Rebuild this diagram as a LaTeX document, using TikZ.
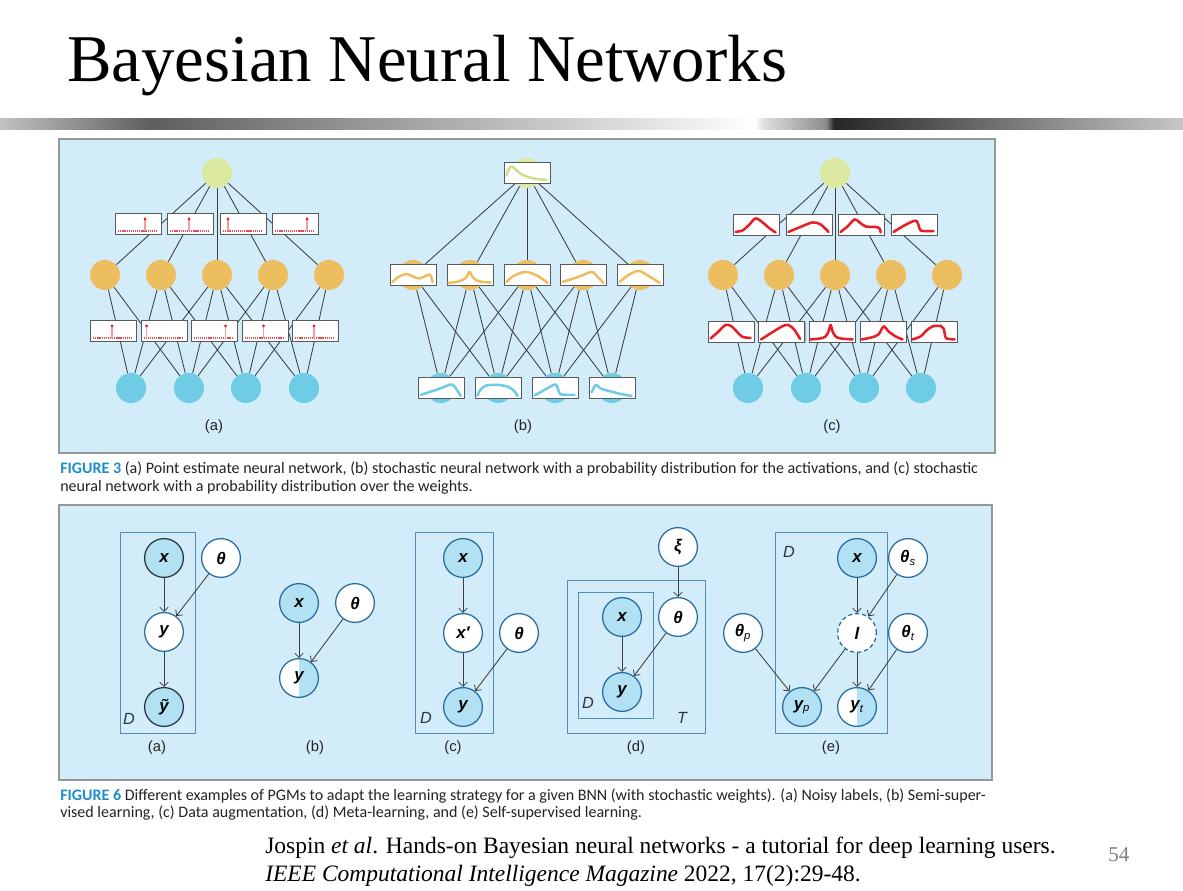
\documentclass[tikz,border=0pt]{standalone}
\usepackage{fontspec}
\setmainfont{Liberation Serif}
\setsansfont{Liberation Sans}
\newfontfamily\capfont{Carlito}
\usetikzlibrary{arrows.meta,positioning,backgrounds,shadows}

\definecolor{fondo}{RGB}{210,237,249}
\definecolor{borde}{RGB}{150,150,150}
\definecolor{verde}{RGB}{218,232,160}
\definecolor{verdecurva}{RGB}{206,222,138}
\definecolor{naranja}{RGB}{236,190,96}
\definecolor{azul}{RGB}{110,205,228}
\definecolor{gris}{RGB}{60,60,60}
\definecolor{rojo}{RGB}{232,30,38}
\definecolor{varfill}{RGB}{178,225,244}
\definecolor{varborde}{RGB}{40,110,160}
\definecolor{placacol}{RGB}{80,140,180}
\definecolor{oscuro}{RGB}{45,55,65}
\definecolor{figazul}{RGB}{30,140,205}
\definecolor{texto}{RGB}{35,35,35}

% curva dentro de una caja (coordenadas locales 46 x 21)
\newcommand{\curva}[3]{\draw[#2, line width=1.8pt, line cap=round, line join=round, shift={(#1.south west)}, x=0.025cm, y=0.025cm] plot[smooth] coordinates {#3};}
% pico puntual dentro de una caja
\newcommand{\pico}[2]{%
  \begin{scope}[shift={(#1.south west)}, x=0.025cm, y=0.025cm]
    \draw[rojo!80, line width=1.1pt, dash pattern=on 0.9pt off 0.6pt] (3,4) -- (43,4);
    \draw[rojo!45, line width=1pt] (#2,4) -- (#2,16);
    \fill[rojo] (#2,16) circle (1.1pt);
  \end{scope}}

\begin{document}
\begin{tikzpicture}[
    x=0.025cm, y=-0.025cm,
    neurona/.style={circle, minimum size=0.75cm, inner sep=0pt},
    caja/.style={draw=gray!70!black, fill=white, line width=0.6pt, minimum width=1.15cm, minimum height=0.525cm, inner sep=0pt,
      drop shadow={shadow xshift=0.7pt, shadow yshift=-0.7pt, fill=black, opacity=0.25}},
    linea/.style={draw=gris, line width=0.6pt},
    var/.style={circle, draw=varborde, fill=white, line width=0.9pt, minimum size=0.97cm, inner sep=0pt,
      font=\sffamily\bfseries\itshape\fontsize{12}{14}\selectfont, text=black},
    obs/.style={var, fill=varfill},
    semi/.style={var, path picture={\fill[varfill] (path picture bounding box.north) rectangle (path picture bounding box.south east);}},
    flecha/.style={-{Straight Barb[length=3pt,width=6pt]}, draw=gris, line width=0.6pt},
    placa/.style={draw=placacol, line width=0.6pt},
    etiq/.style={font=\sffamily\fontsize{10.5}{12}\selectfont, text=texto},
    letra/.style={font=\sffamily\itshape\fontsize{11.5}{13}\selectfont, text=oscuro},
    pie/.style={anchor=base west, inner sep=0pt, font=\capfont\fontsize{11.4}{13}\selectfont, text=texto}
  ]
  \useasboundingbox (0,0) rectangle (1183,891);

  % Fondo, barra del titulo y paneles
  \begin{scope}[on background layer]
    \fill[white] (0,0) rectangle (1183,891);
    \shade[left color=black!24, right color=black!63] (0,119) rectangle (151,130);
    \shade[left color=black!63, right color=white] (151,119) rectangle (755,130);
    \shade[left color=white, right color=black!12] (755,119) rectangle (762,130);
    \shade[left color=black!12, right color=black!45] (762,119) rectangle (826,130);
    \shade[left color=black!45, right color=black!85] (826,119) rectangle (834,130);
    \shade[left color=black!85, right color=black!22] (834,119) rectangle (1183,130);
    \filldraw[fill=fondo, draw=borde, line width=0.8pt] (59,139) rectangle (995,453);
    \filldraw[fill=fondo, draw=borde, line width=0.8pt] (59,505) rectangle (992,780);
  \end{scope}

  % Titulo
  \node[anchor=base west, inner sep=0pt, font=\fontsize{47.5}{50}\selectfont] (titulo) at (67,82) {Bayesian Neural Networks};

  % Figura 3 (a): estimacion puntual
  \node[neurona, fill=verde] (ta) at (217,173) {};
  \foreach \x [count=\i] in {105,161,217,273,329} \node[neurona, fill=naranja] (oa\i) at (\x,275) {};
  \foreach \x [count=\i] in {131,189,246,304} \node[neurona, fill=azul] (ba\i) at (\x,388) {};
  \foreach \x/\p [count=\i] in {138.5/30,190.5/22,243.5/8,295.5/35} {\node[caja] (wa\i) at (\x,224) {}; \pico{wa\i}{\p}}
  \foreach \x/\p [count=\i] in {113.5/22,164/6,214/35,265/22,315.5/22} {\node[caja] (va\i) at (\x,331) {}; \pico{va\i}{\p}}
  \node[etiq] (la) at (214,427) {(a)};

  % Figura 3 (b): activaciones estocasticas
  \node[neurona, fill=verde] (tb) at (527,173) {};
  \node[caja] (cb0) at (527,172.5) {};
  \foreach \x [count=\i] in {413,470,527,583,640} {\node[neurona, fill=naranja] (ob\i) at (\x,275) {}; \node[caja] (cb\i) at (\x,275) {};}
  \foreach \x [count=\i] in {441,498,555,612} {\node[neurona, fill=azul] (bb\i) at (\x,388) {}; \node[caja] (db\i) at (\x,387.5) {};}
  \curva{cb0}{verdecurva}{(3,8) (5,14) (8,17) (12,14) (18,9) (26,6) (35,4.2) (43,3.5)}
  \curva{cb1}{naranja}{(3,4) (9,9) (17,12) (24,9) (30,7.5) (36,10) (40,11.5) (42,8) (43,4)}
  \curva{cb2}{naranja}{(2,3) (10,4) (16,6) (20,9) (23,14) (26,9) (30,5.5) (36,4) (44,3.5)}
  \curva{cb3}{naranja}{(3,4) (10,10) (22,14) (34,10) (44,3)}
  \curva{cb4}{naranja}{(3,4) (20,9.5) (32,14) (38,9) (44,3)}
  \curva{cb5}{naranja}{(3,4) (12,11) (22,15) (32,10) (43,3)}
  \curva{db1}{azul}{(3,3.5) (20,9) (34,14) (39,9) (43,2.5)}
  \curva{db2}{azul}{(3,3) (6,9) (12,13) (24,13.5) (34,11.5) (40,7) (43,2.5)}
  \curva{db3}{azul}{(3,3) (12,8) (20,12.5) (24,14) (26,11) (28,5) (32,3.8) (43,3.5)}
  \curva{db4}{azul}{(3,6) (6,12) (8,13.5) (12,10) (22,7) (32,4.5) (43,2.5)}
  \node[etiq] (lb) at (523,427) {(b)};

  % Figura 3 (c): pesos estocasticos
  \node[neurona, fill=verde] (tc) at (835,173) {};
  \foreach \x [count=\i] in {723,779,835,891,947} \node[neurona, fill=naranja] (oc\i) at (\x,275) {};
  \foreach \x [count=\i] in {748,806,864,921} \node[neurona, fill=azul] (bc\i) at (\x,388) {};
  \foreach \x [count=\i] in {756,809,861,914} \node[caja] (wc\i) at (\x,224.5) {};
  \foreach \x [count=\i] in {731,781.5,832,883,934} \node[caja] (vc\i) at (\x,331.5) {};
  \curva{wc1}{rojo}{(3,3.5) (10,5) (16,10) (23,17) (30,13) (37,7) (43,3)}
  \curva{wc2}{rojo}{(3,3.5) (15,8.5) (27,13) (35,11) (43,3.5)}
  \curva{wc3}{rojo}{(3,3.5) (10,9) (17,16) (22,13) (28,9) (38,8.5) (42,7) (43,3)}
  \curva{wc4}{rojo}{(3,3.5) (12,9) (22,14) (26,14.5) (28,10) (30,5) (36,4.3) (43,4.3)}
  \curva{vc1}{rojo}{(3,4) (10,10) (18,17.5) (24,16) (30,10) (35,5.5) (43,4.5)}
  \curva{vc2}{rojo}{(3,3) (14,10) (24,16) (30,17.5) (36,13) (42,3.5)}
  \curva{vc3}{rojo}{(2,3) (12,4) (17,6) (20,11) (22,17.5) (24,11) (27,6) (32,4) (44,3)}
  \curva{vc4}{rojo}{(2,3) (12,5) (19,8) (24,16) (29,11) (36,6) (43,3)}
  \curva{vc5}{rojo}{(2,3) (10,6) (16,12) (22,16) (30,16.5) (33,14) (35,5) (38,3.5) (44,3)}
  \node[etiq] (lc) at (832,427) {(c)};

  % Conexiones de las tres redes (por debajo de las cajas)
  \begin{scope}[on background layer]
    \foreach \f in {a,b,c} {
      \foreach \i in {1,...,5} \draw[linea] (t\f) -- (o\f\i);
      \foreach \i/\j in {1/1,1/2,2/1,2/2,2/3,3/1,3/2,3/3,3/4,4/2,4/3,4/4,5/3,5/4} \draw[linea] (o\f\i) -- (b\f\j);
    }
  \end{scope}

  % Pie de la figura 3
  \node[pie] (cap3a) at (60,474) {\textbf{\color{figazul}FIGURE 3} (a) Point estimate neural network, (b) stochastic neural network with a probability distribution for the activations, and (c) stochastic};
  \node[pie] (cap3b) at (60,491) {neural network with a probability distribution over the weights.};

  % Figura 6 (a): etiquetas ruidosas
  \draw[placa] (120,532) rectangle (195,733);
  \node[obs, draw=oscuro] (ax) at (164,558) {x};
  \node[var] (ay) at (164,632) {y};
  \node[obs, draw=oscuro] (ayt) at (164,707) {ỹ};
  \node[var] (ath) at (221,558) {θ};
  \node[letra] (aD) at (129,719) {D};
  \draw[flecha] (ax) -- (ay);
  \draw[flecha] (ay) -- (ayt);
  \draw[flecha] (ath) -- (ay);
  \node[etiq] (l6a) at (157,748) {(a)};

  % Figura 6 (b): semisupervisado
  \node[obs] (bx) at (299,603) {x};
  \node[var] (bth) at (355,603) {θ};
  \node[semi] (by) at (299,678) {y};
  \draw[flecha] (bx) -- (by);
  \draw[flecha] (bth) -- (by);
  \node[etiq] (l6b) at (315,748) {(b)};

  % Figura 6 (c): aumento de datos
  \draw[placa] (415,532) rectangle (493,733);
  \node[obs] (cx) at (463,558) {x};
  \node[var] (cxp) at (463,633) {x′};
  \node[obs] (cy) at (463,707) {y};
  \node[var] (cth) at (519,633) {θ};
  \node[letra] (cD) at (426,718) {D};
  \draw[flecha] (cx) -- (cxp);
  \draw[flecha] (cxp) -- (cy);
  \draw[flecha] (cth) -- (cy);
  \node[etiq] (l6c) at (453,748) {(c)};

  % Figura 6 (d): meta-aprendizaje
  \draw[placa] (567,580) rectangle (705,733);
  \draw[placa] (578,592) rectangle (653,718);
  \node[var] (dxi) at (678,547) {ξ};
  \node[var] (dth) at (678,617) {θ};
  \node[obs] (dx) at (622,617) {x};
  \node[obs] (dy) at (622,692) {y};
  \node[letra] (dD) at (588,703) {D};
  \node[letra] (dT) at (682,718) {T};
  \draw[flecha] (dxi) -- (dth);
  \draw[flecha] (dx) -- (dy);
  \draw[flecha] (dth) -- (dy);
  \node[etiq] (l6d) at (636,748) {(d)};

  % Figura 6 (e): autosupervisado
  \draw[placa] (775,532) rectangle (887,733);
  \node[letra] (eD) at (789,552) {D};
  \node[obs] (ex) at (857,558) {x};
  \node[var] (eths) at (908,558) {θ\textsubscript{\mdseries s}};
  \node[var, dashed, dash pattern=on 3pt off 2pt] (el) at (857,633) {l};
  \node[var] (ethp) at (743,633) {θ\textsubscript{\mdseries p}};
  \node[var] (etht) at (908,633) {θ\textsubscript{\mdseries t}};
  \node[obs] (eyp) at (802,707) {y\textsubscript{\mdseries p}};
  \node[semi] (eyt) at (857,707) {y\textsubscript{\mdseries t}};
  \draw[flecha] (ex) -- (el);
  \draw[flecha] (eths) -- (el);
  \draw[flecha] (el) -- (eyp);
  \draw[flecha] (el) -- (eyt);
  \draw[flecha] (ethp) -- (eyp);
  \draw[flecha] (etht) -- (eyt);
  \node[etiq] (l6e) at (831,748) {(e)};

  % Pie de la figura 6
  \node[pie] (cap6a) at (60,800) {\textbf{\color{figazul}FIGURE 6} Different examples of PGMs to adapt the learning strategy for a given BNN (with stochastic weights). (a) Noisy labels, (b) Semi-super-};
  \node[pie] (cap6b) at (60,817) {vised learning, (c) Data augmentation, (d) Meta-learning, and (e) Self-supervised learning.};

  % Referencia y numero de pagina
  \node[anchor=base west, inner sep=0pt, font=\fontsize{16.7}{20}\selectfont] (ref1) at (265,853) {Jospin \textit{et al}. Hands-on Bayesian neural networks - a tutorial for deep learning users.};
  \node[anchor=base west, inner sep=0pt, font=\fontsize{16.7}{20}\selectfont] (ref2) at (265,881) {\textit{IEEE Computational Intelligence Magazine} 2022, 17(2):29-48.};
  \node[anchor=base west, inner sep=0pt, text=gray, font=\fontsize{15}{18}\selectfont] (pag) at (1108,861) {54};
\end{tikzpicture}
\end{document}
